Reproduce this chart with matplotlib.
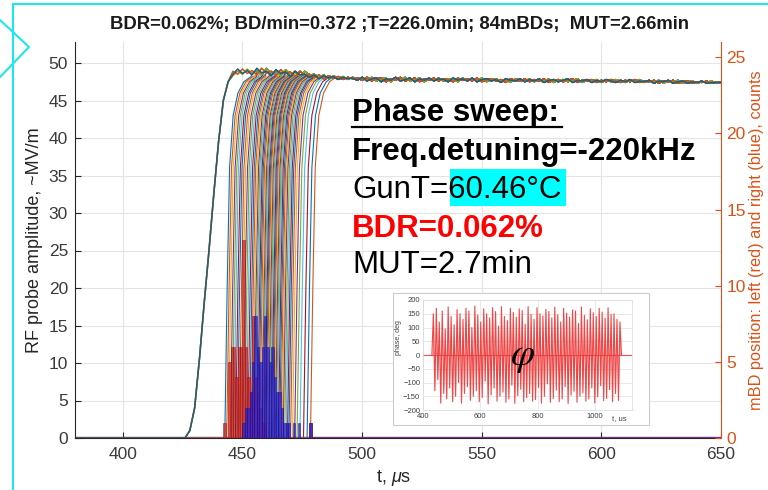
import numpy as np
import matplotlib
matplotlib.use("Agg")
import matplotlib.pyplot as plt
from matplotlib.lines import Line2D
from matplotlib.patches import Rectangle

plt.rcParams['font.family'] = ['Liberation Sans', 'DejaVu Sans']
plt.rcParams['mathtext.fontset'] = 'custom'
plt.rcParams['mathtext.rm'] = 'Liberation Sans'
plt.rcParams['mathtext.it'] = 'Liberation Sans:italic'

# ---- data ----
# traces that have the full pulse rise (~427 us)
rise_t = [426, 428, 430, 432, 434, 436, 438, 440, 442, 444]
rise_v = [0, 1.0, 4.0, 10.5, 18, 25, 32.5, 39.5, 45, 47.5]
full_colors = ['#77AC30', '#D95319', '#205d7d']

# start times of the other traces (us)
start_times = [442.6, 443.4, 444.1, 444.9, 445.6, 446.3, 447.1, 447.8, 448.6, 449.3,
               450.1, 450.8, 451.5, 452.2, 452.9, 453.5, 454.1, 454.7, 455.2, 455.7,
               456.2, 456.7, 457.2, 457.7, 458.1, 458.5, 458.9, 459.3, 459.7, 460.1,
               460.5, 460.9, 461.3, 461.7, 462.1, 462.5, 462.9, 463.3, 463.7, 464.1,
               464.5, 465.0, 465.5, 466.0, 466.5, 467.0, 467.6, 468.2, 468.8, 469.4,
               470.1, 470.9, 471.8, 472.8, 474.0, 475.5, 477.0, 478.4]
# steep rise shape relative to start time
step_dt = [0, 1, 2, 3.5, 5.5, 8, 11]
step_v = [0, 20, 36, 43, 46, 47.5, 48.2]

# flat top, one value every 2 us from 446 us
plateau_v = [48.3, 48.9, 48.5, 49.2, 48.6, 49.0, 48.4, 49.3, 48.7, 48.9,
             48.3, 49.1, 48.6, 48.8, 48.2, 48.9, 48.4, 48.5,
             48.1, 48.4, 47.9, 48.3, 48.0, 48.2, 47.8, 48.1, 47.9, 48.0,
             47.7, 48.1, 47.6, 47.9, 48.0, 47.5, 47.9, 47.7, 48.1, 47.6,
             47.8, 48.0, 47.5, 47.9, 47.7, 48.0, 47.6, 47.9, 47.8, 47.5,
             48.0, 47.7, 47.9, 47.6, 48.0, 47.5, 47.8, 47.9, 47.6, 47.8,
             47.4, 47.9, 47.7, 47.6, 47.9, 47.5, 47.8, 47.6, 47.9, 47.4,
             47.7, 47.8, 47.5, 47.7, 47.9, 47.4, 47.7, 47.6, 47.8, 47.4,
             47.7, 47.5, 47.8, 47.6, 47.4, 47.7, 47.5, 47.8, 47.4, 47.6,
             47.5, 47.7, 47.3, 47.6, 47.5, 47.7, 47.3, 47.5, 47.6, 47.3,
             47.5, 47.4, 47.6, 47.3, 47.4]
plateau_start = 446
plateau_step = 2

# mBD position histograms, 1 us bins
red_start = 442
red_counts = [1, 0, 5, 6, 6, 4, 6, 6, 13, 6, 4, 3, 8, 4, 3, 2, 1, 1,
              0, 0, 0, 0, 0, 0, 0, 0, 0, 0, 0, 0, 0, 0, 0, 0, 0, 0, 1, 0]
blue_start = 450
blue_counts = [1, 2, 2, 3, 5, 8, 6, 5, 6, 8, 6, 5, 6, 4, 3, 3, 2, 1, 1, 1,
               0, 1, 0, 1, 0, 0, 0, 0, 1, 0]

# inset: phase trace
phase_deg = [0, 150, -130, 170, -90, 120, -175, 160, -140, 95, -160, 175, -120, 140, -170,
             110, -150, 165, -100, 150, -175, 130, -140, 170, -115, 160, -165, 100, -150,
             178, -130, 145, -170, 120, -155, 168, -95, 150, -178, 135, -145, 172, -120,
             158, -168, 105, -150, 176, -135, 140, -172, 125, -160, 170, -110, 155, -176,
             138, -148, 168, -125, 162, -170, 112, -155, 176, -140, 148, -168, 130, -162,
             172, -118, 150, -175, 142, -150, 166, -105, 158, -172, 135, -158, 174, -128,
             146, -170, 120, -160, 170, -115, 152, -176, 138, -146, 164, -132, 160, -172,
             115, -150, 175, -138, 144, -168, 128, -160, 168, -120, 154, -174, 140, -152,
             170, -112, 156, -166, 134, -158, 172, -126, 148, -170, 150, -140, 130, -165,
             120, 0]
phase_t0, phase_t1 = 431, 1093

title = "BDR=0.062%; BD/min=0.372 ;T=226.0min; 84mBDs;  MUT=2.66min"
notes = ["Phase sweep:", "Freq.detuning=-220kHz", "GunT=60.46°C", "BDR=0.062%", "MUT=2.7min"]

matlab_colors = ['#0072BD', '#D95319', '#EDB120', '#7E2F8E', '#77AC30', '#4DBEEE', '#A2142F']

W, H = 768, 490


def fx(px):
    return px / W


def fy(py):
    return 1 - py / H


fig = plt.figure(figsize=(7.68, 4.90), dpi=100)
ax = fig.add_axes([fx(75), fy(438), fx(721) - fx(75), fy(42) - fy(438)])

plat_t = plateau_start + plateau_step * np.arange(len(plateau_v))
plat_v = np.array(plateau_v)

# trace that never comes back
ax.plot([380, 650], [0.2, 0.2], color='#7E2F8E', lw=1.0)

for i, t0 in enumerate(start_times):
    k = i % 3
    pv = plat_v[k:]
    pt = plat_t[:len(pv)]
    keep = pt > t0 + step_dt[-1]
    t = np.concatenate([[380], t0 + np.array(step_dt), pt[keep], [650]])
    v = np.concatenate([[0], step_v, pv[keep], [pv[keep][-1]]])
    ax.plot(t, v, color=matlab_colors[i % 7], lw=0.8)

for j, c in enumerate(full_colors):
    pv = plat_v[j:]
    pt = plat_t[:len(pv)]
    t = np.concatenate([[380], rise_t, pt, [650]])
    v = np.concatenate([[0], rise_v, pv, [pv[-1]]])
    ax.plot(t, v, color=c, lw=1.1)

ax.set_xlim(380, 650)
ax.set_ylim(0, 52.8)
ax.set_xticks([400, 450, 500, 550, 600, 650])
ax.set_yticks(range(0, 51, 5))
ax.grid(True, color='#e4e4e4', lw=0.8)
ax.set_axisbelow(True)
ax.tick_params(direction='in', length=4, labelsize=12.5, colors='#262626', labelcolor='#3a3a3a', pad=5)
ax.tick_params(axis='x', pad=6.5)
ax.spines['top'].set_visible(False)
ax.spines['right'].set_visible(False)
for s in ['left', 'bottom']:
    ax.spines[s].set_color('#262626')
    ax.spines[s].set_linewidth(0.8)

ax2 = ax.twinx()
ax2.bar(red_start + np.arange(len(red_counts)), red_counts, width=1, align='edge',
        color=(0.82, 0.12, 0.12, 0.75), edgecolor=(0.55, 0.05, 0.05, 0.8), linewidth=0.4)
ax2.bar(blue_start + np.arange(len(blue_counts)), blue_counts, width=1, align='edge',
        color=(0.15, 0.12, 0.82, 0.75), edgecolor=(0.10, 0.05, 0.55, 0.8), linewidth=0.4)
ax2.set_ylim(0, 26)
ax2.set_yticks(range(0, 26, 5))
ax2.tick_params(direction='in', length=4, labelsize=12.5, colors='#D95319', pad=4)
ax2.spines['right'].set_color('#D95319')
ax2.spines['top'].set_visible(False)
ax2.spines['left'].set_visible(False)
ax2.spines['bottom'].set_visible(False)

fig.text(fx(400), fy(24), title, ha='center', va='center', fontsize=13.3, fontweight='bold', color='#1a1a1a')
fig.text(fx(35), fy(240), 'RF probe amplitude, ~MV/m', rotation=90, ha='center', va='center',
         fontsize=13, color='#262626')
fig.text(fx(757), fy(240), 'mBD position: left (red) and right (blue), counts', rotation=90,
         ha='center', va='center', fontsize=11.8, color='#D95319')
fig.text(fx(394), fy(478), r't, $\mu$s', ha='center', va='center', fontsize=13, color='#262626')

# text block
fs = 22.5
x0 = fx(352)
fig.add_artist(Rectangle((fx(450), fy(206)), fx(566) - fx(450), fy(169) - fy(206),
                         transform=fig.transFigure, facecolor='#00ffff', edgecolor='none', zorder=2))
fig.text(x0, fy(121), notes[0], fontsize=fs, fontweight='bold', va='baseline', zorder=3)
fig.add_artist(Line2D([fx(352), fx(562)], [fy(127), fy(127)], color='black', lw=1.6, zorder=3))
fig.text(x0, fy(160), notes[1], fontsize=fs, fontweight='bold', va='baseline', zorder=3)
fig.text(x0, fy(198), notes[2], fontsize=fs, va='baseline', zorder=3)
fig.text(x0, fy(237), notes[3], fontsize=fs, fontweight='bold', color='#ff0000', va='baseline', zorder=3)
fig.text(x0, fy(273), notes[4], fontsize=fs, va='baseline', zorder=3)

# inset picture
fig.add_artist(Rectangle((fx(393), fy(425)), fx(649) - fx(393), fy(293) - fy(425),
                         transform=fig.transFigure, facecolor='white', edgecolor='#cccccc',
                         lw=0.8, zorder=1))
axi = fig.add_axes([fx(423), fy(410), fx(632) - fx(423), fy(300) - fy(410)])
axi.set_zorder(2)
pt_in = np.linspace(phase_t0, phase_t1, len(phase_deg))
axi.fill_between(pt_in, phase_deg, 0, color='#f26a6a', alpha=0.55, lw=0)
axi.axhline(0, color='#f05050', lw=0.8)
axi.plot(pt_in, phase_deg, color='#ee3636', lw=0.8, alpha=0.9)
axi.set_xlim(400, 1130)
axi.set_ylim(-200, 200)
axi.set_xticks([400, 600, 800, 1000])
axi.set_yticks(range(-200, 201, 50))
axi.grid(True, color='#e0e0e0', lw=0.5)
axi.set_axisbelow(True)
axi.tick_params(length=0, labelsize=5.5, colors='#404040', pad=2)
for s in axi.spines.values():
    s.set_color('#d8d8d8')
    s.set_linewidth(0.5)
axi.text(0.94, -0.075, 't, us', transform=axi.transAxes, ha='center', va='center', fontsize=5.5, color='#404040')
fig.text(fx(399), fy(338), 'phase, deg', rotation=90, ha='center', va='center', fontsize=5, color='#404040', zorder=3)
fig.text(fx(522), fy(357), r'$\varphi$', ha='center', va='center', fontsize=28, math_fontfamily='stix', zorder=4)

# slide frame
cyan = '#1ee6ea'
fig.add_artist(Line2D([fx(13), fx(768)], [fy(4), fy(4)], color=cyan, lw=1.5, zorder=5))
fig.add_artist(Line2D([fx(13), fx(13)], [fy(4), fy(490)], color=cyan, lw=1.5, zorder=5))
fig.add_artist(Line2D([fx(0), fx(29), fx(0)], [fy(20), fy(47), fy(77)], color=cyan, lw=1.5, zorder=5))

fig.savefig('out.png', dpi=100)
